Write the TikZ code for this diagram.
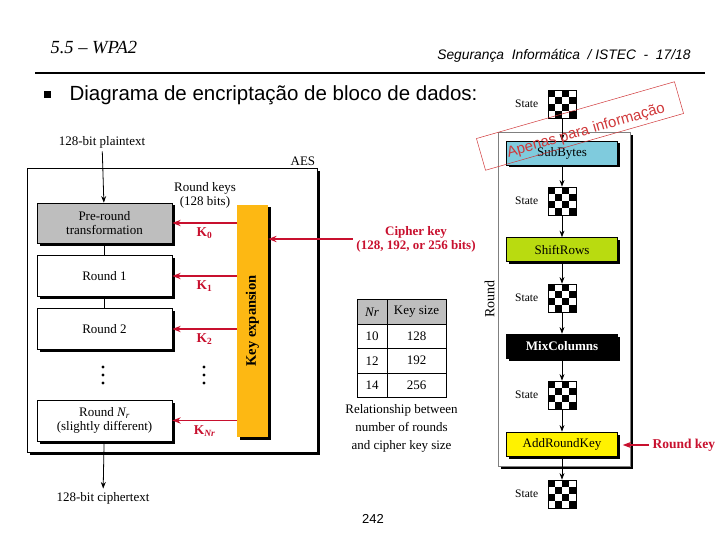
\documentclass[tikz,border=0pt]{standalone}
\usepackage{fontspec}
\setmainfont{Liberation Serif}
\setsansfont{Liberation Sans}
\usetikzlibrary{positioning, arrows.meta, shadows, matrix}

\definecolor{aesred}{HTML}{C8102E}
\definecolor{wmred}{HTML}{D0383A}
\definecolor{preroundgray}{HTML}{BEBEBE}
\definecolor{keyorange}{HTML}{FDB813}
\definecolor{subblue}{HTML}{7FCBDD}
\definecolor{shiftgreen}{HTML}{B9DB10}
\definecolor{addyellow}{HTML}{FFF200}

\begin{document}
\begin{tikzpicture}[x=1pt,y=-1pt,>=Stealth,
    font=\fontsize{13}{14}\selectfont,
    boxshadow/.style={drop shadow={shadow xshift=2.5pt,shadow yshift=-2.5pt,opacity=1,fill=black}},
    bigshadow/.style={drop shadow={shadow xshift=3pt,shadow yshift=-3pt,opacity=1,fill=black}},
    rbox/.style={draw,line width=0.6pt,fill=white,minimum width=135pt,
      minimum height=41pt,align=center,boxshadow},
    opbox/.style={draw,line width=0.6pt,minimum width=111pt,minimum height=24pt,boxshadow},
    stategrid/.style={draw,line width=0.6pt,minimum size=28pt,inner sep=0pt,
      path picture={
        \foreach \i in {0,...,3} \foreach \j in {0,...,3} {
          \pgfmathtruncatemacro\k{mod(\i+\j,2)}
          \ifnum\k=0
            \fill ([xshift=\i*7pt,yshift=-\j*7pt]path picture bounding box.north west)
              rectangle ++(7pt,-7pt);
          \fi}}},
    statelbl/.style={font=\fontsize{11.5}{12}\selectfont},
    keyarrow/.style={->,draw=aesred,line width=1.2pt},
    flow/.style={->,line width=0.8pt},
    redlbl/.style={text=aesred,font=\bfseries\fontsize{13}{14}\selectfont,align=center},
    klbl/.style={text=aesred,font=\bfseries\fontsize{13.5}{14}\selectfont}]
  \useasboundingbox (0,0) rectangle (720,540);

  % slide header
  \node[anchor=west,font=\itshape\fontsize{18.5}{18}\selectfont] (sec) at (47,48) {5.5 -- WPA2};
  \node[anchor=east,font=\sffamily\itshape\fontsize{13.8}{14}\selectfont] (hdr) at (694,56)
    {Segurança \ Informática \ / ISTEC \ - \ 17/18};
  \coordinate (ruleL) at (35,73);
  \coordinate (ruleR) at (705,73);
  \draw[line width=2pt] (ruleL) -- (ruleR);
  \fill (44,91.5) rectangle (51,98.5);
  \node[anchor=west,font=\sffamily\fontsize{20.5}{20}\selectfont] (title) at (66,95)
    {Diagrama de encriptação de bloco de dados:};
  \node[font=\sffamily\fontsize{13}{13}\selectfont] (page) at (373,519) {242};

  % AES overview
  \node[draw,fill=white,line width=0.8pt,minimum width=290pt,minimum height=284pt,bigshadow] (aes) at (172,310) {};
  \node[anchor=south east,inner sep=2pt] at (aes.north east) {AES};
  \node (plain) at (102,142) {128-bit plaintext};
  \node[rbox,fill=preroundgray,minimum height=40pt] (pre) at (104.5,223) {Pre-round\\transformation};
  \node[rbox] (r1) at (104.5,276) {Round 1};
  \node[rbox] (r2) at (104.5,329) {Round 2};
  \node[rbox] (rn) at (104.5,420.5) {Round \textit{N\textsubscript{r}}\\(slightly different)};
  \node (cipher) at (103,498) {128-bit ciphertext};
  \draw[flow] (plain) -- (pre);
  \draw[line width=0.8pt] (pre) -- (r1) (r1) -- (r2);
  \draw[flow] (rn) -- (cipher);
  \foreach \y in {367,375,383} {
    \fill (103,\y) circle (1.7pt);
    \fill (204,\y) circle (1.7pt);
  }
  \node[fill=keyorange,minimum width=31pt,minimum height=232pt,boxshadow] (kexp) at (252.5,321) {};
  \node[rotate=90,font=\bfseries\fontsize{14.5}{15}\selectfont] at (kexp) {Key expansion};
  \node[align=center] (rkeys) at (205,195) {Round keys\\(128 bits)};
  \draw[keyarrow] (kexp.west |- pre.east) -- node[klbl,below=1pt] {K\textsubscript{0}} (pre.east);
  \draw[keyarrow] (kexp.west |- r1.east) -- node[klbl,below=1pt] {K\textsubscript{1}} (r1.east);
  \draw[keyarrow] (kexp.west |- r2.east) -- node[klbl,below=1pt] {K\textsubscript{2}} (r2.east);
  \draw[keyarrow] (kexp.west |- rn.east) -- node[klbl,below=1pt] {K\textsubscript{\textit{Nr}}} (rn.east);
  \node[redlbl] (ckey) at (416,239) {Cipher key\\(128, 192, or 256 bits)};
  \draw[keyarrow] (ckey.west) -- (kexp.east |- ckey.west);

  % rounds vs key size
  \matrix[matrix of nodes,row sep=-0.6pt,column sep=-0.6pt,
    nodes={draw,line width=0.6pt,minimum height=24.5pt,anchor=center,inner sep=1pt},
    column 1/.style={nodes={minimum width=30pt}},
    column 2/.style={nodes={minimum width=59pt}},
    row 1/.style={nodes={fill=preroundgray}}] (tab) at (401.5,348.5) {
    \textit{Nr} & Key size \\
    10 & 128 \\
    12 & 192 \\
    14 & 256 \\
  };
  \node[below=0pt of tab,align=center,font=\fontsize{13}{18}\selectfont] (cap)
    {Relationship between\\number of rounds\\and cipher key size};

  % one round
  \node[draw=gray,fill=white,line width=0.5pt,minimum width=132pt,minimum height=334pt,bigshadow] (roundbox) at (564,299) {};
  \node[rotate=90,anchor=south,inner sep=3pt,font=\fontsize{14}{14}\selectfont] at (roundbox.west) {Round};
  \foreach \n/\y in {1/104,2/201,3/298,4/395,5/494} {
    \node[stategrid] (st\n) at (562,\y) {};
    \node[statelbl,left=6pt of st\n] {State};
  }
  \node[opbox,fill=subblue] (sub) at (562,153) {SubBytes};
  \node[opbox,fill=shiftgreen] (shift) at (562,249.5) {ShiftRows};
  \node[opbox,fill=black,text=white,font=\bfseries\fontsize{13}{14}\selectfont] (mix) at (562,346) {MixColumns};
  \node[opbox,fill=addyellow] (add) at (562,444) {AddRoundKey};
  \foreach \a/\b in {st1/sub,sub/st2,st2/shift,shift/st3,st3/mix,mix/st4,st4/add,add/st5}
    \draw[flow] (\a.south) -- (\b.north);
  \node[redlbl,anchor=west,font=\bfseries\fontsize{13.5}{14}\selectfont] (rkey) at (649,445) {Round key};
  \coordinate (addtip) at ([xshift=5pt]add.east);
  \draw[keyarrow] (rkey.west) -- (addtip |- rkey.west);

  % watermark
  \node[draw=wmred,line width=0.5pt,rotate=16,minimum width=206pt,minimum height=33pt] (wm) at (580,126) {};
  \node[text=wmred,rotate=16,font=\sffamily\fontsize{15}{15}\selectfont] at (586,131) {Apenas para informação};
\end{tikzpicture}
\end{document}
